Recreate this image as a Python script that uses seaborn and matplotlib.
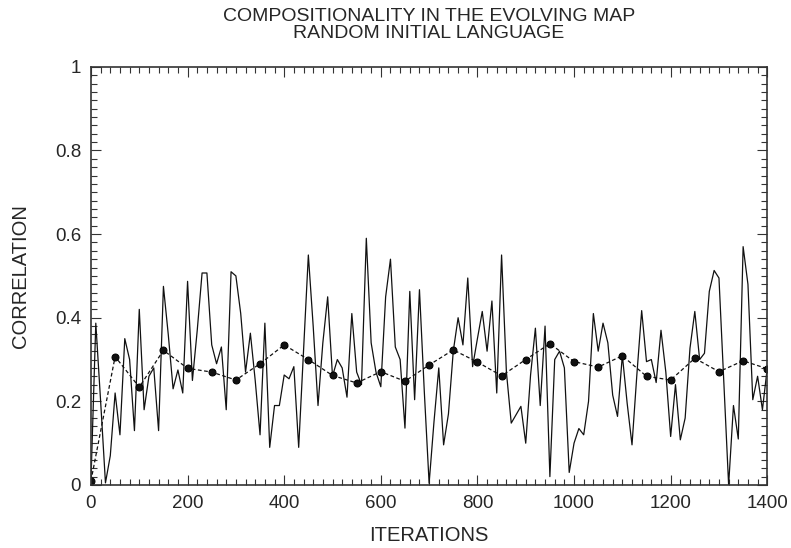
import matplotlib
matplotlib.use("Agg")
import matplotlib.pyplot as plt
from matplotlib.ticker import MultipleLocator
import numpy as np
import pandas as pd
import seaborn as sns

# correlation sampled every 10 iterations
iterations = np.arange(0, 1401, 10)
correlation = [
    0.01, 0.387, 0.20, 0.005, 0.07, 0.22, 0.12, 0.35, 0.30, 0.13,
    0.42, 0.18, 0.26, 0.28, 0.13, 0.475, 0.36, 0.23, 0.275, 0.22,
    0.487, 0.25, 0.37, 0.507, 0.507, 0.335, 0.29, 0.33, 0.18, 0.51,
    0.50, 0.41, 0.27, 0.363, 0.25, 0.12, 0.387, 0.09, 0.19, 0.19,
    0.263, 0.254, 0.283, 0.09, 0.32, 0.55, 0.38, 0.19, 0.34, 0.45,
    0.26, 0.30, 0.28, 0.21, 0.41, 0.27, 0.24, 0.59, 0.34, 0.27,
    0.235, 0.45, 0.54, 0.33, 0.30, 0.136, 0.463, 0.204, 0.467, 0.224,
    0.004, 0.15, 0.28, 0.096, 0.17, 0.32, 0.40, 0.335, 0.495, 0.283,
    0.35, 0.415, 0.32, 0.44, 0.22, 0.55, 0.27, 0.148, 0.168, 0.188,
    0.10, 0.263, 0.375, 0.19, 0.38, 0.02, 0.30, 0.32, 0.28, 0.03,
    0.10, 0.135, 0.12, 0.20, 0.41, 0.32, 0.387, 0.34, 0.215, 0.164,
    0.31, 0.195, 0.096, 0.263, 0.417, 0.295, 0.30, 0.245, 0.37, 0.27,
    0.116, 0.24, 0.108, 0.16, 0.327, 0.415, 0.30, 0.315, 0.463, 0.513,
    0.495, 0.25, 0.0, 0.19, 0.11, 0.57, 0.48, 0.204, 0.26, 0.18,
    0.28,
]

# averaged curve, every 50 iterations
avg_iterations = np.arange(0, 1401, 50)
avg_correlation = [
    0.01, 0.307, 0.234, 0.322, 0.279, 0.27, 0.251, 0.29, 0.335, 0.30,
    0.262, 0.244, 0.271, 0.248, 0.287, 0.323, 0.294, 0.261, 0.30, 0.338,
    0.295, 0.282, 0.309, 0.26, 0.251, 0.303, 0.271, 0.297, 0.278,
]

title_lines = ["COMPOSITIONALITY IN THE EVOLVING MAP", "RANDOM INITIAL LANGUAGE"]

sns.set_style("ticks")
plt.rcParams["font.family"] = ["Liberation Sans", "DejaVu Sans"]

raw = pd.DataFrame({"iteration": iterations, "correlation": correlation})
avg = pd.DataFrame({"iteration": avg_iterations, "correlation": avg_correlation})

fig = plt.figure(figsize=(7.91, 5.48), dpi=100)
ax = fig.add_axes([0.115, 0.115, 0.855, 0.763])

sns.lineplot(data=raw, x="iteration", y="correlation", color="#111111",
             linewidth=0.9, ax=ax)
sns.lineplot(data=avg, x="iteration", y="correlation", color="#111111",
             linewidth=0.9, linestyle=(0, (3, 2)), marker="o",
             markersize=5, markeredgecolor="black", ax=ax)

ax.set_xlim(0, 1400)
ax.set_ylim(0, 1)
ax.xaxis.set_major_locator(MultipleLocator(200))
ax.xaxis.set_minor_locator(MultipleLocator(20))
ax.yaxis.set_major_locator(MultipleLocator(0.2))
ax.yaxis.set_minor_locator(MultipleLocator(0.02))
ax.yaxis.set_major_formatter(plt.FuncFormatter(lambda v, p: f"{v:g}"))
ax.tick_params(which="both", direction="in", top=True, right=True,
               color="#333333", width=0.8)
ax.tick_params(which="major", length=7, labelsize=13.5, pad=7)
ax.tick_params(which="minor", length=4)
for s in ax.spines.values():
    s.set_linewidth(1.2)
    s.set_color("#333333")

ax.set_xlabel("ITERATIONS", fontsize=14.5, labelpad=10)
ax.set_ylabel("CORRELATION", fontsize=14.5, labelpad=18)

fig.text(0.542, 0.970, title_lines[0], fontsize=14, ha="center", va="center")
fig.text(0.542, 0.939, title_lines[1], fontsize=14, ha="center", va="center")

fig.savefig("out.png", dpi=100)
